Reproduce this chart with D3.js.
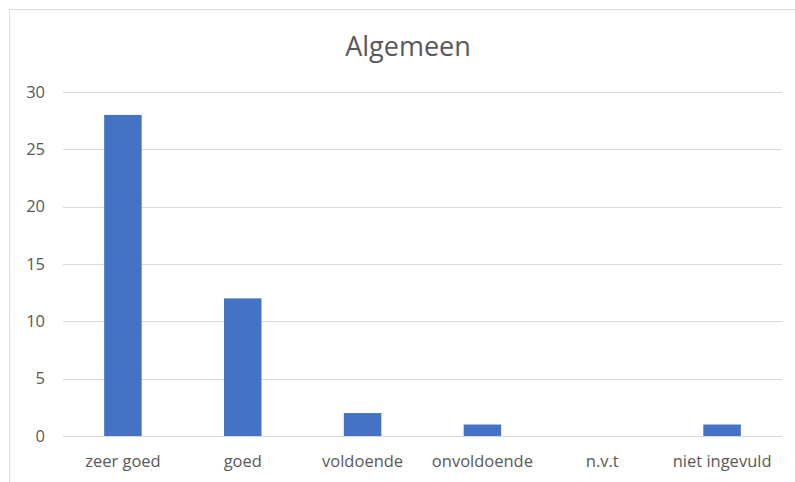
<!DOCTYPE html>
<html>
<head>
<meta charset="utf-8">
<script src="https://cdn.jsdelivr.net/npm/d3@7"></script>
<style>
  body { margin: 0; background: #fff; }
  svg { display: block; font-family: "Open Sans", sans-serif; }
</style>
</head>
<body>
<div id="chart"></div>
<script>
var categories = ["zeer goed", "goed", "voldoende", "onvoldoende", "n.v.t", "niet ingevuld"];
var counts = [28, 12, 2, 1, 0, 1];
var yTicks = [0, 5, 10, 15, 20, 25, 30];
var title = "Algemeen";

var width = 795, height = 482;
var marginLeft = 63, marginRight = 13, marginTop = 92, marginBottom = 46;

var svg = d3.select("#chart").append("svg")
    .attr("width", width)
    .attr("height", height);

// chart area border
svg.append("rect")
    .attr("x", 9.5).attr("y", 9.5)
    .attr("width", width).attr("height", height)
    .attr("fill", "none")
    .attr("stroke", "#d9d9d9")
    .attr("stroke-width", 1);

var x = d3.scaleBand()
    .domain(categories)
    .range([marginLeft, width - marginRight])
    .paddingInner(0.687)
    .paddingOuter(0.3435);

var y = d3.scaleLinear()
    .domain([0, 30])
    .range([height - marginBottom, marginTop]);

// gridlines
svg.append("g")
  .selectAll("line")
  .data(yTicks)
  .join("line")
    .attr("x1", marginLeft)
    .attr("x2", width - marginRight)
    .attr("y1", d => Math.round(y(d)) + 0.5)
    .attr("y2", d => Math.round(y(d)) + 0.5)
    .attr("stroke", "#d9d9d9")
    .attr("stroke-width", 1);

// y axis labels
svg.append("g")
    .attr("transform", `translate(${marginLeft - 18},0)`)
    .call(d3.axisLeft(y).tickValues(yTicks).tickSize(0).tickPadding(0))
    .call(g => g.select(".domain").remove())
    .call(g => g.selectAll("text")
        .attr("fill", "#595959")
        .attr("font-size", 16.5)
        .attr("font-family", "Open Sans, sans-serif"));

// bars
svg.append("g")
  .selectAll("rect")
  .data(categories)
  .join("rect")
    .attr("x", d => x(d))
    .attr("width", x.bandwidth())
    .attr("y", (d, i) => y(counts[i]))
    .attr("height", (d, i) => y(0) - y(counts[i]))
    .attr("fill", "#4472c4");

// x axis labels
var xBand = d3.scaleBand().domain(categories).range([marginLeft, width - marginRight]);
svg.append("g")
    .attr("transform", `translate(0,${height - marginBottom})`)
    .call(d3.axisBottom(xBand).tickSize(0).tickPadding(19))
    .call(g => g.select(".domain").remove())
    .call(g => g.selectAll("text")
        .attr("fill", "#595959")
        .attr("font-size", 16.5)
        .attr("font-family", "Open Sans, sans-serif"));

// title
svg.append("text")
    .attr("x", 408)
    .attr("y", 56)
    .attr("text-anchor", "middle")
    .attr("fill", "#595959")
    .attr("font-size", 27)
    .text(title);
</script>
</body>
</html>
